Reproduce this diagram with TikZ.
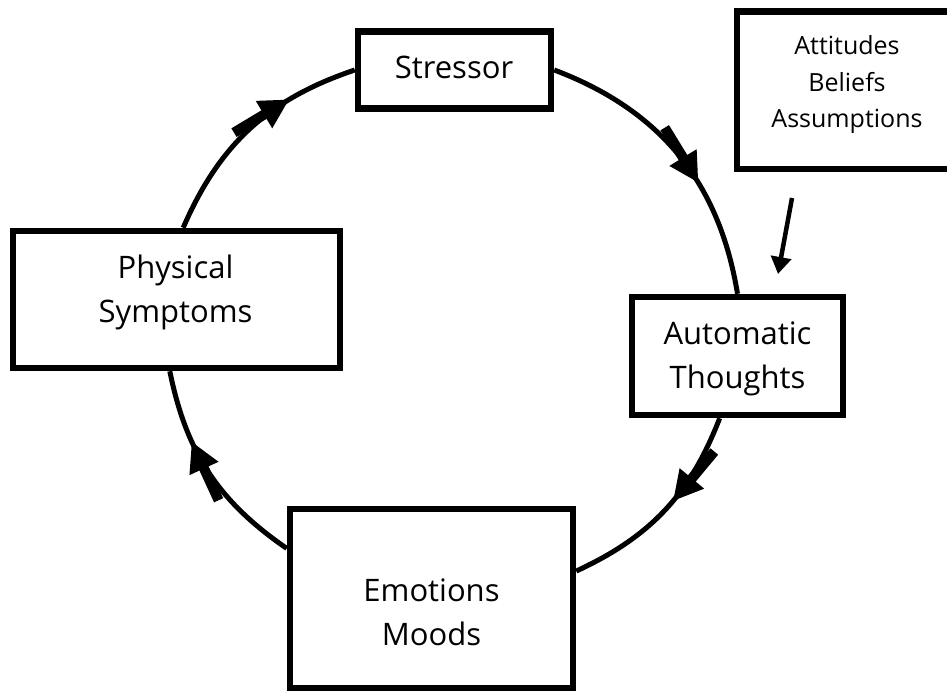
\documentclass[tikz,border=0pt]{standalone}
\usepackage{fontspec}
\setmainfont{Open Sans}
\usetikzlibrary{calc,decorations.markings,arrows.meta}
\tikzset{
  boxshape/.style={draw, fill=white, line width=6.5pt, inner sep=0pt, rectangle},
  lbl/.style={align=center, font=\fontsize{31}{44}\selectfont, inner sep=0pt},
  smalllbl/.style={align=center, font=\fontsize{25}{36.5}\selectfont, inner sep=0pt},
  cyc/.style={line width=5pt, line cap=butt},
  headat/.style={postaction={decorate, decoration={markings, mark=at position #1 with {
      \fill (-64pt,-5pt) -- (-29pt,-5pt) -- (-29pt,-16pt) -- (0pt,0pt)
            -- (-29pt,16pt) -- (-29pt,5pt) -- (-64pt,5pt) -- cycle;}}}},
  influence/.style={line width=4.5pt, -{Triangle[length=17pt,width=20pt]}}
}
\begin{document}
\begin{tikzpicture}[x=1pt, y=-1pt]
\useasboundingbox (0,0) rectangle (947,691);

% boxes
\node[boxshape, minimum width=193pt, minimum height=77pt] (stressor) at (454.5,70) {};
\node[boxshape, minimum width=211pt, minimum height=118pt] (auto) at (737.5,356) {};
\node[boxshape, minimum width=283pt, minimum height=179pt] (emo) at (431.5,598.5) {};
\node[boxshape, minimum width=327pt, minimum height=137pt] (phys) at (176.5,299.5) {};
\node[boxshape, minimum width=225pt, minimum height=157.5pt] (atti) at (849.5,90.25) {};

% labels
\node[lbl] (stressorT) at (454,67) {Stressor};
\node[lbl] (autoT) at (737.5,359) {Automatic\\Thoughts};
\node[lbl] (emoT) at (431.5,612) {Emotions\\Moods};
\node[lbl] (physT) at (175.5,292) {Physical\\Symptoms};
\node[smalllbl] (attiT) at (847,85) {Attitudes\\Beliefs\\Assumptions};

% cycle connectors
\draw[cyc, headat=0.61] (stressor.east) to[bend left=30] (auto.north);
\draw[cyc, headat=0.44] ($(auto.south west)!0.418!(auto.south east)$) to[bend left=22]
      ($(emo.north east)!0.352!(emo.south east)$);
\draw[cyc, headat=0.66] ($(emo.north west)!0.23!(emo.south west)$) to[bend left=22]
      ($(phys.south west)!0.48!(phys.south east)$);
\draw[cyc, headat=0.70] ($(phys.north west)!0.52!(phys.north east)$) to[bend left=24]
      (stressor.west);

% influence arrow
\coordinate (infA) at (792,198);
\coordinate (infB) at (778,274);
\draw[influence] (infA) -- (infB);
\end{tikzpicture}
\end{document}
